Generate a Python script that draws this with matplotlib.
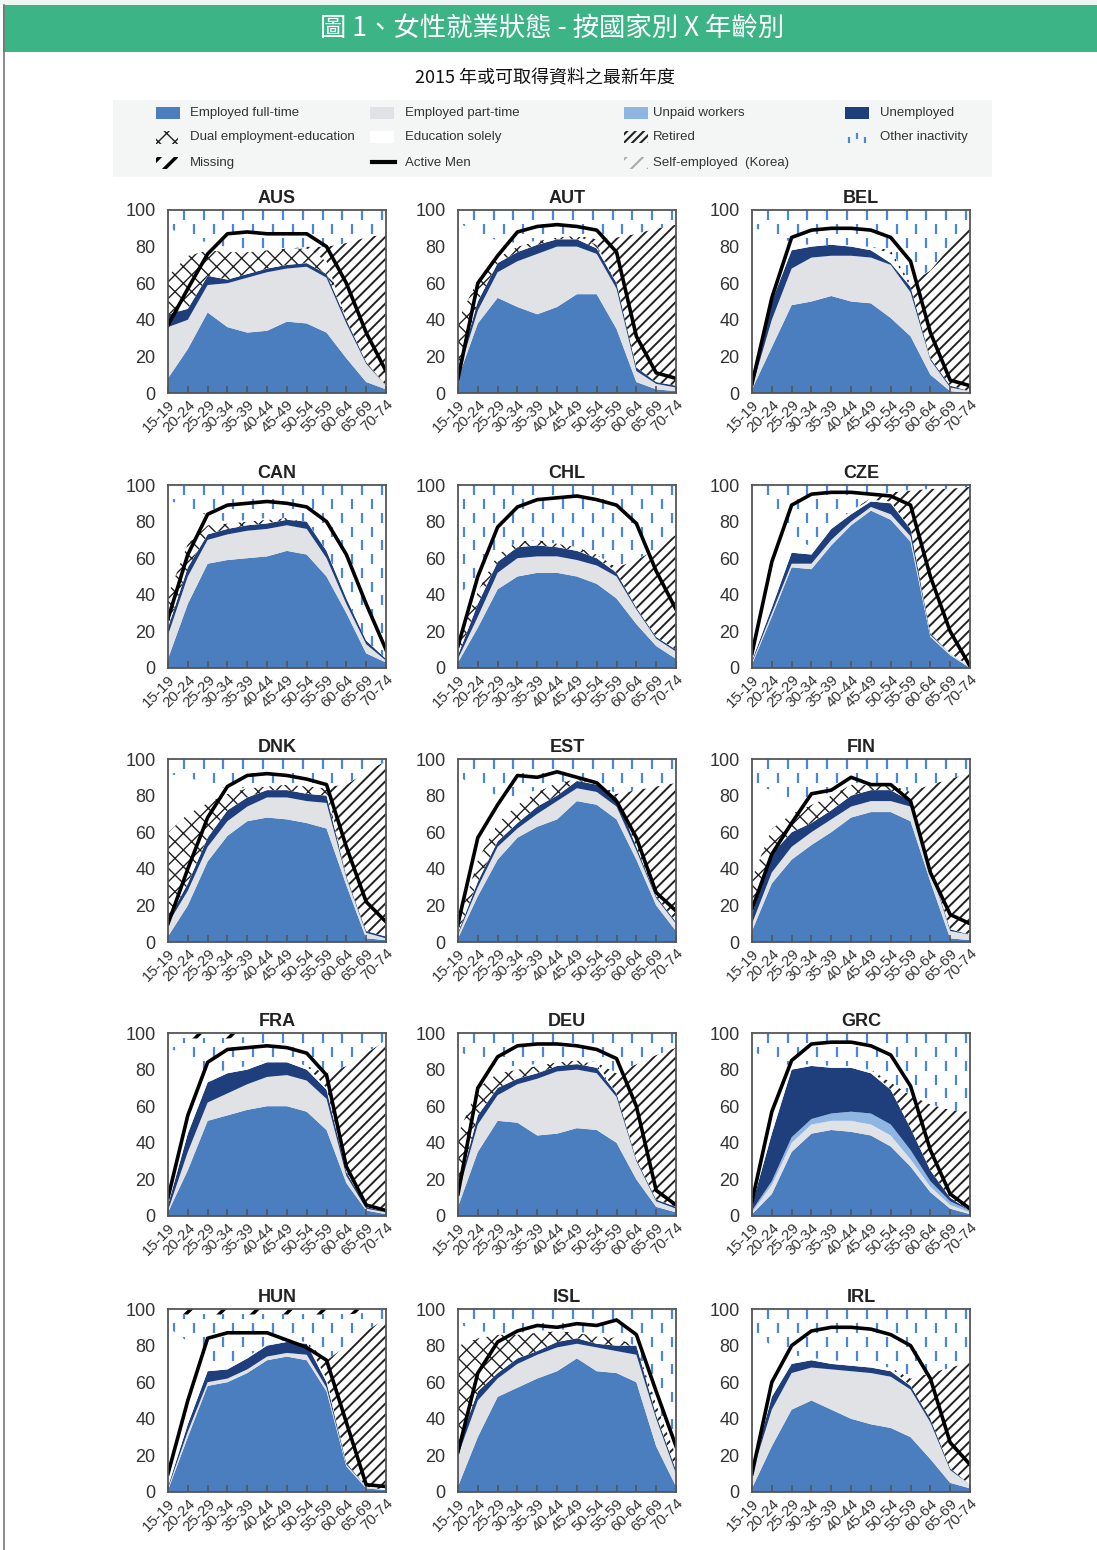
import numpy as np
import matplotlib
matplotlib.use('Agg')
import matplotlib.pyplot as plt
from matplotlib.patches import Rectangle

plt.rcParams['font.family'] = ['Liberation Sans Narrow', 'Liberation Sans', 'DejaVu Sans']
plt.rcParams['hatch.linewidth'] = 1.0

# age groups and panels
ages = ['15-19', '20-24', '25-29', '30-34', '35-39', '40-44', '45-49',
        '50-54', '55-59', '60-64', '65-69', '70-74']
countries = ['AUS', 'AUT', 'BEL', 'CAN', 'CHL', 'CZE', 'DNK', 'EST', 'FIN',
             'FRA', 'DEU', 'GRC', 'HUN', 'ISL', 'IRL']

# cumulative share of women (%) at the top of each status layer;
# 0 where a layer is empty for that age group
full_time = {
    'AUS': [8, 24, 44, 36, 33, 34, 39, 38, 33, 19, 6, 2],
    'AUT': [8, 38, 52, 47, 43, 47, 54, 54, 35, 6, 2, 1],
    'BEL': [2, 25, 48, 50, 53, 50, 49, 41, 31, 10, 1, 0],
    'CAN': [5, 35, 57, 59, 60, 61, 64, 62, 50, 30, 8, 3],
    'CHL': [3, 22, 43, 50, 52, 52, 50, 46, 38, 24, 12, 5],
    'CZE': [2, 28, 55, 54, 67, 78, 86, 81, 69, 17, 7, 0],
    'DNK': [3, 20, 44, 58, 66, 68, 67, 65, 62, 31, 2, 1],
    'EST': [2, 25, 45, 57, 63, 67, 77, 75, 67, 45, 20, 6],
    'FIN': [6, 32, 45, 53, 60, 68, 71, 71, 66, 33, 2, 1],
    'FRA': [2, 25, 52, 55, 58, 60, 60, 57, 47, 18, 3, 1],
    'DEU': [5, 35, 52, 51, 44, 45, 48, 47, 40, 20, 5, 2],
    'GRC': [1, 12, 35, 45, 47, 46, 44, 38, 27, 13, 4, 1],
    'HUN': [1, 30, 58, 60, 65, 72, 74, 72, 55, 14, 2, 1],
    'ISL': [3, 30, 52, 57, 62, 66, 73, 66, 65, 60, 25, 3],
    'IRL': [2, 25, 45, 50, 45, 40, 37, 35, 30, 18, 5, 2],
}
part_time = {
    'AUS': [36, 40, 59, 60, 63, 66, 68, 69, 63, 38, 16, 4],
    'AUT': [10, 45, 66, 72, 76, 80, 80, 76, 57, 12, 5, 3],
    'BEL': [3, 40, 68, 74, 75, 75, 74, 70, 55, 18, 3, 1],
    'CAN': [18, 50, 70, 73, 75, 76, 78, 76, 60, 35, 13, 4],
    'CHL': [5, 28, 52, 60, 61, 61, 59, 56, 50, 32, 16, 9],
    'CZE': [3, 30, 57, 57, 70, 80, 88, 84, 72, 18, 8, 1],
    'DNK': [10, 28, 52, 66, 74, 79, 79, 77, 76, 35, 5, 2],
    'EST': [4, 30, 52, 62, 70, 77, 84, 82, 74, 50, 24, 10],
    'FIN': [10, 38, 52, 60, 67, 74, 77, 77, 74, 40, 6, 4],
    'FRA': [3, 35, 62, 67, 72, 76, 77, 74, 64, 22, 4, 2],
    'DEU': [12, 50, 66, 72, 75, 79, 80, 78, 65, 30, 8, 4],
    'GRC': [2, 17, 40, 50, 52, 52, 50, 44, 31, 16, 6, 2],
    'HUN': [2, 33, 60, 62, 67, 74, 76, 75, 57, 15, 3, 1],
    'ISL': [20, 50, 62, 70, 75, 79, 81, 79, 77, 75, 40, 10],
    'IRL': [10, 45, 65, 68, 67, 66, 65, 63, 56, 38, 12, 4],
}
unpaid = {
    'GRC': [3, 19, 43, 53, 56, 57, 56, 50, 36, 19, 8, 3],
}
unemployed = {
    'AUS': [43, 46, 64, 62, 65, 68, 70, 71, 65, 40, 17, 4],
    'AUT': [12, 50, 71, 77, 81, 84, 84, 79, 60, 14, 6, 4],
    'BEL': [4, 50, 78, 80, 81, 80, 78, 71, 58, 19, 4, 1],
    'CAN': [22, 55, 73, 76, 78, 79, 81, 80, 64, 38, 15, 5],
    'CHL': [7, 35, 58, 66, 67, 66, 64, 60, 52, 33, 17, 10],
    'CZE': [4, 33, 63, 62, 76, 84, 91, 90, 76, 19, 8, 1],
    'DNK': [12, 32, 57, 72, 79, 83, 83, 81, 80, 36, 6, 3],
    'EST': [5, 33, 55, 65, 74, 80, 88, 86, 79, 52, 25, 11],
    'FIN': [15, 48, 60, 65, 72, 80, 83, 83, 77, 41, 7, 4],
    'FRA': [6, 45, 73, 78, 80, 84, 84, 80, 69, 24, 5, 2],
    'DEU': [14, 55, 70, 75, 78, 82, 83, 81, 67, 31, 9, 5],
    'GRC': [6, 45, 80, 82, 81, 81, 78, 69, 48, 25, 10, 3],
    'HUN': [3, 37, 66, 67, 73, 80, 82, 81, 60, 16, 3, 1],
    'ISL': [25, 55, 65, 73, 77, 82, 84, 81, 80, 80, 42, 12],
    'IRL': [12, 52, 70, 72, 70, 69, 68, 66, 58, 40, 13, 4],
}
dual = {
    'AUS': [64, 75, 78, 77, 77, 78, 79, 79, 72, 0, 0, 0],
    'AUT': [40, 62, 74, 80, 83, 85, 86, 81, 0, 0, 0, 0],
    'CAN': [40, 68, 78, 79, 80, 81, 82, 80, 0, 0, 0, 0],
    'CHL': [15, 42, 62, 69, 70, 68, 66, 62, 0, 0, 0, 0],
    'DNK': [60, 70, 76, 81, 84, 85, 86, 85, 84, 0, 0, 0],
    'EST': [10, 45, 65, 75, 82, 87, 89, 86, 0, 0, 0, 0],
    'FIN': [35, 62, 70, 75, 80, 86, 86, 85, 0, 0, 0, 0],
    'DEU': [45, 70, 78, 80, 82, 84, 85, 83, 0, 0, 0, 0],
    'ISL': [80, 84, 86, 86, 87, 88, 87, 85, 84, 0, 0, 0],
}
education = {
    'AUS': [90, 86, 82, 80, 78, 0, 0, 0, 0, 0, 0, 0],
    'AUT': [93, 88, 83, 82, 83, 85, 86, 81, 0, 0, 0, 0],
    'BEL': [90, 88, 82, 81, 81, 81, 80, 76, 0, 0, 0, 0],
    'CAN': [92, 88, 83, 80, 81, 82, 82, 80, 0, 0, 0, 0],
    'CHL': [40, 50, 0, 0, 0, 0, 0, 0, 0, 0, 0, 0],
    'CZE': [98, 86, 72, 66, 78, 86, 92, 91, 0, 0, 0, 0],
    'DNK': [92, 90, 86, 84, 84, 86, 87, 86, 85, 0, 0, 0],
    'EST': [90, 85, 80, 80, 83, 87, 89, 86, 0, 0, 0, 0],
    'FIN': [85, 83, 78, 78, 82, 87, 87, 86, 0, 0, 0, 0],
    'FRA': [92, 88, 78, 80, 82, 85, 85, 82, 70, 0, 0, 0],
    'DEU': [90, 85, 82, 82, 83, 85, 86, 84, 0, 0, 0, 0],
    'GRC': [90, 85, 82, 83, 82, 82, 80, 0, 0, 0, 0, 0],
    'HUN': [90, 82, 72, 70, 74, 81, 83, 82, 62, 0, 0, 0],
    'ISL': [92, 88, 87, 87, 88, 89, 88, 0, 0, 0, 0, 0],
    'IRL': [88, 80, 75, 73, 72, 71, 70, 68, 0, 0, 0, 0],
}
retired = {
    'AUS': [0, 0, 0, 0, 0, 0, 0, 80, 80, 82, 85, 87],
    'AUT': [0, 0, 0, 0, 0, 0, 0, 84, 85, 87, 90, 92],
    'BEL': [0, 0, 0, 0, 0, 0, 0, 78, 60, 67, 80, 92],
    'CHL': [0, 0, 0, 0, 0, 0, 0, 0, 55, 59, 65, 73],
    'CZE': [0, 0, 0, 0, 0, 85, 93, 96, 97, 98, 98, 99],
    'DNK': [0, 0, 0, 0, 0, 0, 0, 0, 82, 86, 93, 99],
    'EST': [0, 0, 0, 0, 0, 0, 0, 87, 81, 83, 85, 87],
    'FIN': [0, 0, 0, 0, 0, 0, 0, 0, 82, 86, 89, 93],
    'FRA': [0, 0, 0, 0, 0, 0, 0, 0, 78, 82, 89, 96],
    'DEU': [0, 0, 0, 0, 0, 0, 0, 0, 78, 83, 88, 92],
    'GRC': [0, 0, 0, 0, 0, 0, 79, 73, 66, 61, 58, 57],
    'HUN': [0, 0, 0, 0, 0, 0, 0, 0, 72, 80, 88, 95],
    'ISL': [0, 0, 0, 0, 0, 0, 0, 0, 0, 0, 48, 20],
    'IRL': [0, 0, 0, 0, 0, 0, 0, 0, 62, 65, 68, 71],
}
# share with missing status, drawn as a band under 100
missing = {
    'FRA': [3, 3, 3, 3, 2, 0, 0, 0, 0, 0, 0, 0],
    'HUN': [3, 3, 3, 3, 3, 3, 3, 3, 3, 3, 2, 0],
}
active_men = {
    'AUS': [37, 57, 76, 87, 88, 87, 87, 87, 80, 60, 33, 12],
    'AUT': [8, 60, 75, 88, 91, 92, 91, 89, 77, 31, 11, 8],
    'BEL': [5, 52, 85, 89, 90, 90, 89, 85, 72, 33, 7, 4],
    'CAN': [27, 62, 84, 89, 90, 91, 90, 88, 80, 62, 35, 10],
    'CHL': [12, 50, 77, 88, 92, 93, 94, 92, 89, 79, 53, 32],
    'CZE': [8, 58, 89, 95, 96, 96, 95, 94, 89, 50, 20, 1],
    'DNK': [10, 40, 68, 85, 91, 92, 91, 89, 86, 52, 22, 11],
    'EST': [10, 57, 75, 91, 90, 93, 90, 87, 77, 57, 27, 17],
    'FIN': [18, 48, 65, 81, 83, 90, 86, 86, 77, 38, 15, 10],
    'FRA': [10, 55, 84, 91, 92, 93, 92, 89, 77, 27, 6, 3],
    'DEU': [12, 70, 87, 93, 94, 94, 93, 91, 86, 60, 14, 6],
    'GRC': [8, 57, 85, 94, 95, 95, 93, 88, 71, 36, 12, 4],
    'HUN': [10, 50, 84, 87, 87, 87, 83, 79, 72, 38, 4, 3],
    'ISL': [22, 65, 82, 88, 91, 90, 92, 91, 94, 86, 55, 25],
    'IRL': [10, 60, 80, 88, 90, 90, 89, 86, 80, 62, 27, 15],
}

c_ft = '#4a7ebf'
c_pt = '#e0e2e6'
c_unpaid = '#8fb5e3'
c_unemp = '#1f3f7c'
c_dash = '#4a88d4'
c_green = '#3cb486'

W, H = 1097, 1550
fig = plt.figure(figsize=(W / 100, H / 100), dpi=100)


def px_axes(x, y, w, h):
    return fig.add_axes([x / W, 1 - (y + h) / H, w / W, h / H])


def dash_fill(ax, x, lower, upper):
    # white area sprinkled with short blue dashes (other inactivity)
    poly = ax.fill_between(x, lower, upper, facecolor='white', linewidth=0)
    gx, gy = [], []
    for k, yv in enumerate(np.arange(97, 0, -7.5)):
        cols = np.arange(-0.2 + 0.5 * (k % 2), 11.6, 1.0)
        gx += list(cols)
        gy += [yv] * len(cols)
    ln, = ax.plot(gx, gy, ls='none', marker='|', ms=6.5, mew=1.6, color=c_dash)
    ln.set_clip_path(poly.get_paths()[0], ax.transData)


def draw_panel(ax, code):
    x = np.arange(len(ages))
    zero = np.zeros(len(ages))
    layers = [full_time, part_time, unpaid, unemployed, dual, education, retired]
    tops = []
    prev = zero
    for d in layers:
        cur = np.maximum(np.array(d.get(code, zero), float), prev)
        tops.append(cur)
        prev = cur
    ceiling = np.maximum(100 - np.array(missing.get(code, zero), float), prev)
    bots = [zero] + tops[:-1]

    ax.fill_between(x, bots[0], tops[0], facecolor=c_ft, linewidth=0)
    ax.fill_between(x, bots[1], tops[1], facecolor=c_pt, linewidth=0)
    ax.fill_between(x, bots[2], tops[2], facecolor=c_unpaid, linewidth=0)
    ax.fill_between(x, bots[3], tops[3], facecolor=c_unemp, linewidth=0)
    ax.fill_between(x, bots[4], tops[4], facecolor='white', edgecolor='#222222',
                    hatch='xx', linewidth=0)
    ax.fill_between(x, bots[5], tops[5], facecolor='white', linewidth=0)
    with plt.rc_context({'hatch.linewidth': 1.4}):
        ax.fill_between(x, bots[6], tops[6], facecolor='white', edgecolor='#222222',
                        hatch='///', linewidth=0)
    dash_fill(ax, x, tops[6], ceiling)
    with plt.rc_context({'hatch.linewidth': 2.5}):
        ax.fill_between(x, ceiling, 100, facecolor='white', edgecolor='black',
                        hatch='/', linewidth=0)

    ax.plot(x, active_men[code], color='black', lw=2.6, zorder=5)

    ax.set_xlim(0, 11)
    ax.set_ylim(0, 100)
    ax.set_yticks(range(0, 101, 20))
    ax.set_xticks(x)
    ax.set_xticklabels(ages, rotation=45, ha='right', rotation_mode='anchor')
    ax.tick_params(axis='x', direction='in', length=5, width=1.2, color='#555555',
                   labelsize=11, pad=3, labelcolor='#333333')
    ax.tick_params(axis='y', length=0, labelsize=13, pad=9, labelcolor='#333333')
    for s in ax.spines.values():
        s.set_color('#555555')
        s.set_linewidth(1.3)
        s.set_zorder(6)
    ax.set_title(code, fontsize=13, fontweight='bold', pad=5, color='#222222')


# page background, header bar and subtitle
bg = px_axes(0, 0, W, H)
bg.set_xlim(0, W)
bg.set_ylim(H, 0)
bg.axis('off')
bg.add_patch(Rectangle((0, 0), W, 5, facecolor='#eef6f3', linewidth=0))
bg.add_patch(Rectangle((3, 5), W - 3, 47, facecolor=c_green, linewidth=0))
bg.plot([3.5, 3.5], [5, H], color='#777777', lw=1.2)
bg.text(552, 28, '圖 1、女性就業狀態 - 按國家別 X 年齡別', color='white', fontsize=19,
        ha='center', va='center', family=['Noto Sans CJK TC', 'DejaVu Sans'])
bg.text(545, 78, '2015 年或可取得資料之最新年度', color='#111111', fontsize=13,
        ha='center', va='center', family=['Noto Sans CJK TC', 'DejaVu Sans'])

# legend block
lg = px_axes(113, 100, 879, 77)
lg.set_xlim(113, 992)
lg.set_ylim(177, 100)
lg.axis('off')
lg.add_patch(Rectangle((113, 100), 879, 77, facecolor='#f4f5f5', linewidth=0))
lg.add_patch(Rectangle((156, 107), 24, 12, facecolor=c_ft, linewidth=0))
lg.add_patch(Rectangle((370, 107), 24, 12, facecolor=c_pt, linewidth=0))
lg.add_patch(Rectangle((624, 107), 24, 12, facecolor=c_unpaid, linewidth=0))
lg.add_patch(Rectangle((845, 107), 24, 12, facecolor=c_unemp, linewidth=0))
lg.add_patch(Rectangle((156, 131), 22, 13, facecolor='none', edgecolor='#222222',
                       hatch='xx', linewidth=0))
lg.add_patch(Rectangle((370, 131), 24, 12, facecolor='white', linewidth=0))
with plt.rc_context({'hatch.linewidth': 1.5}):
    lg.add_patch(Rectangle((624, 131), 24, 12, facecolor='none', edgecolor='#222222',
                           hatch='////', linewidth=0))
lg.plot([849, 857, 865], [140, 136, 140], ls='none', marker='|', ms=5, mew=1.6,
        color=c_dash)
with plt.rc_context({'hatch.linewidth': 2.5}):
    lg.add_patch(Rectangle((156, 157), 22, 12, facecolor='none', edgecolor='black',
                           hatch='//', linewidth=0))
lg.plot([372, 395], [162, 162], color='black', lw=3)
with plt.rc_context({'hatch.linewidth': 1.5}):
    lg.add_patch(Rectangle((624, 157), 24, 12, facecolor='none', edgecolor='#aaaaaa',
                           hatch='//', linewidth=0))
legend_rows = [
    [(190, 'Employed full-time'), (405, 'Employed part-time'),
     (653, 'Unpaid workers'), (880, 'Unemployed')],
    [(190, 'Dual employment-education'), (405, 'Education solely'),
     (653, 'Retired'), (880, 'Other inactivity')],
    [(190, 'Missing'), (405, 'Active Men'), (653, 'Self-employed  (Korea)')],
]
for yy, row in zip([113, 137, 163], legend_rows):
    for xx, label in row:
        lg.text(xx, yy, label, fontsize=9.5, color='#333333', va='center', ha='left')

# 5 x 3 grid of country panels
cols_left = [168, 458, 752]
rows_top = [210, 485, 759, 1033, 1309]
for i, code in enumerate(countries):
    r, c = divmod(i, 3)
    ax = px_axes(cols_left[c], rows_top[r], 218, 183)
    draw_panel(ax, code)

fig.savefig('out.png', dpi=100)
